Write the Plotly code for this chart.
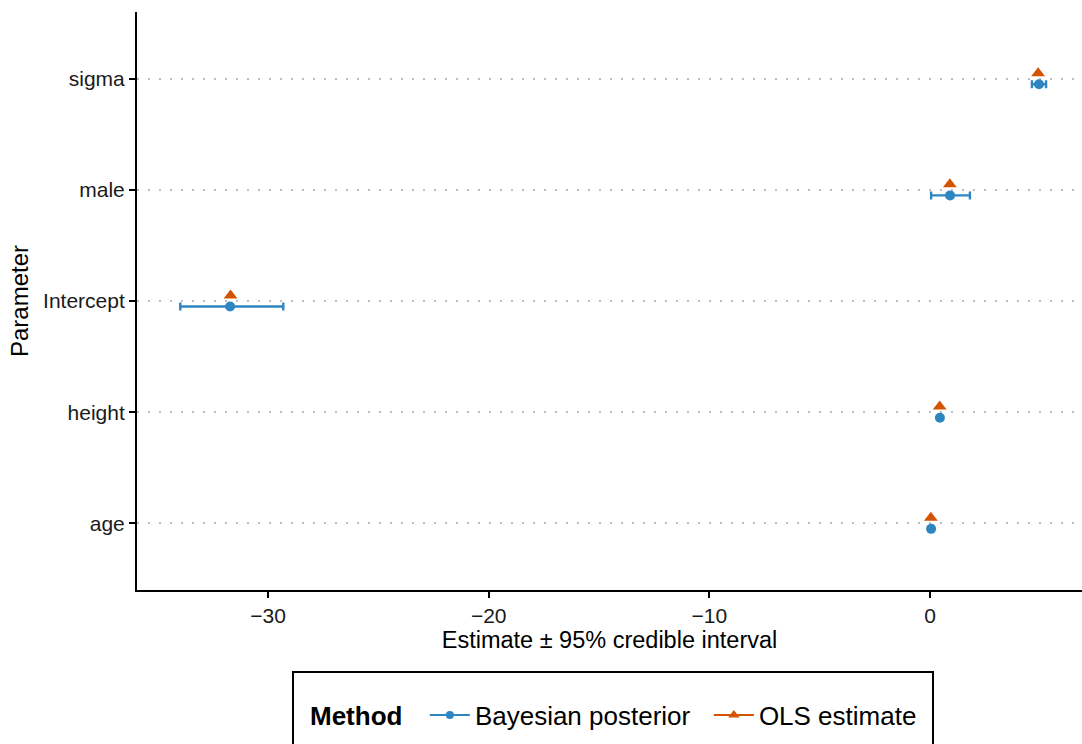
import plotly.graph_objects as go

# ---- data ----
parameters = ["age", "height", "Intercept", "male", "sigma"]   # bottom -> top
bayes_est = [0.05, 0.45, -31.72, 0.91, 4.94]
bayes_lo = [0.02, 0.40, -33.98, 0.05, 4.62]
bayes_hi = [0.08, 0.50, -29.31, 1.81, 5.26]
ols_est = [0.04, 0.44, -31.70, 0.90, 4.90]
methods = ["Bayesian posterior", "OLS estimate"]

BLUE = "#2E86C1"
ORANGE = "#D35400"
FONT = "Liberation Sans, Arial, Helvetica, sans-serif"
dodge = 0.05

pos = list(range(1, len(parameters) + 1))
err_plus = [h - e for h, e in zip(bayes_hi, bayes_est)]
err_minus = [e - l for e, l in zip(bayes_est, bayes_lo)]

fig = go.Figure()
fig.add_trace(go.Scatter(
    x=bayes_est, y=[p - dodge for p in pos], mode="markers",
    marker=dict(color=BLUE, size=10, symbol="circle"),
    error_x=dict(type="data", symmetric=False, array=err_plus, arrayminus=err_minus,
                 color=BLUE, thickness=2.4, width=4),
    showlegend=False))
fig.add_trace(go.Scatter(
    x=ols_est, y=[p + dodge for p in pos], mode="markers",
    marker=dict(color=ORANGE, size=12, symbol="triangle-up"),
    showlegend=False))
# legend entries
fig.add_trace(go.Scatter(x=[None], y=[None], mode="lines+markers", name=methods[0],
                         line=dict(color=BLUE, width=2), marker=dict(color=BLUE, size=8, symbol="circle")))
fig.add_trace(go.Scatter(x=[None], y=[None], mode="lines+markers", name=methods[1],
                         line=dict(color=ORANGE, width=2), marker=dict(color=ORANGE, size=10, symbol="triangle-up")))

W, H = 1082, 744
L, R, T, B = 137, 0, 12, 154
pw, ph = W - L - R, H - T - B

def px_x(x):
    return (x - L) / pw

def px_y(y):
    return (H - B - y) / ph

fig.add_shape(type="rect", xref="paper", yref="paper",
              x0=px_x(293), x1=px_x(933), y0=px_y(672), y1=px_y(770),
              line=dict(color="black", width=2), fillcolor="rgba(0,0,0,0)")

fig.update_layout(
    width=W, height=H,
    margin=dict(l=L, r=R, t=T, b=B, autoexpand=False),
    plot_bgcolor="white", paper_bgcolor="white",
    font=dict(family=FONT, color="black"),
    xaxis=dict(range=[-35.94, 6.89], tickvals=[-30, -20, -10, 0],
               ticktext=["\u221230", "\u221220", "\u221210", "0"],
               showgrid=False, zeroline=False,
               showline=True, linecolor="black", linewidth=2,
               ticks="outside", ticklen=6, tickwidth=1.5, tickcolor="black",
               tickfont=dict(size=21, color="#1a1a1a"),
               title=dict(text="Estimate \u00b1 95% credible interval", font=dict(size=23.5), standoff=2)),
    yaxis=dict(range=[0.4, 5.6], tickvals=pos, ticktext=parameters,
               showgrid=True, gridcolor="#BDBDBD", gridwidth=2, griddash="2px,9px",
               zeroline=False,
               showline=True, linecolor="black", linewidth=2,
               ticks="outside", ticklen=6, tickwidth=1.5, tickcolor="black",
               tickfont=dict(size=21, color="#1a1a1a"),
               title=dict(text="Parameter", font=dict(size=24), standoff=8)),
    legend=dict(orientation="h", x=px_x(308), xanchor="left", y=px_y(715), yanchor="middle",
                font=dict(size=26), title=dict(text="<b>Method</b>\u00a0\u00a0", font=dict(size=26)),
                itemwidth=40, entrywidth=229, entrywidthmode="pixels",
                bgcolor="rgba(0,0,0,0)", borderwidth=0),
)

fig.write_html("out.html")
